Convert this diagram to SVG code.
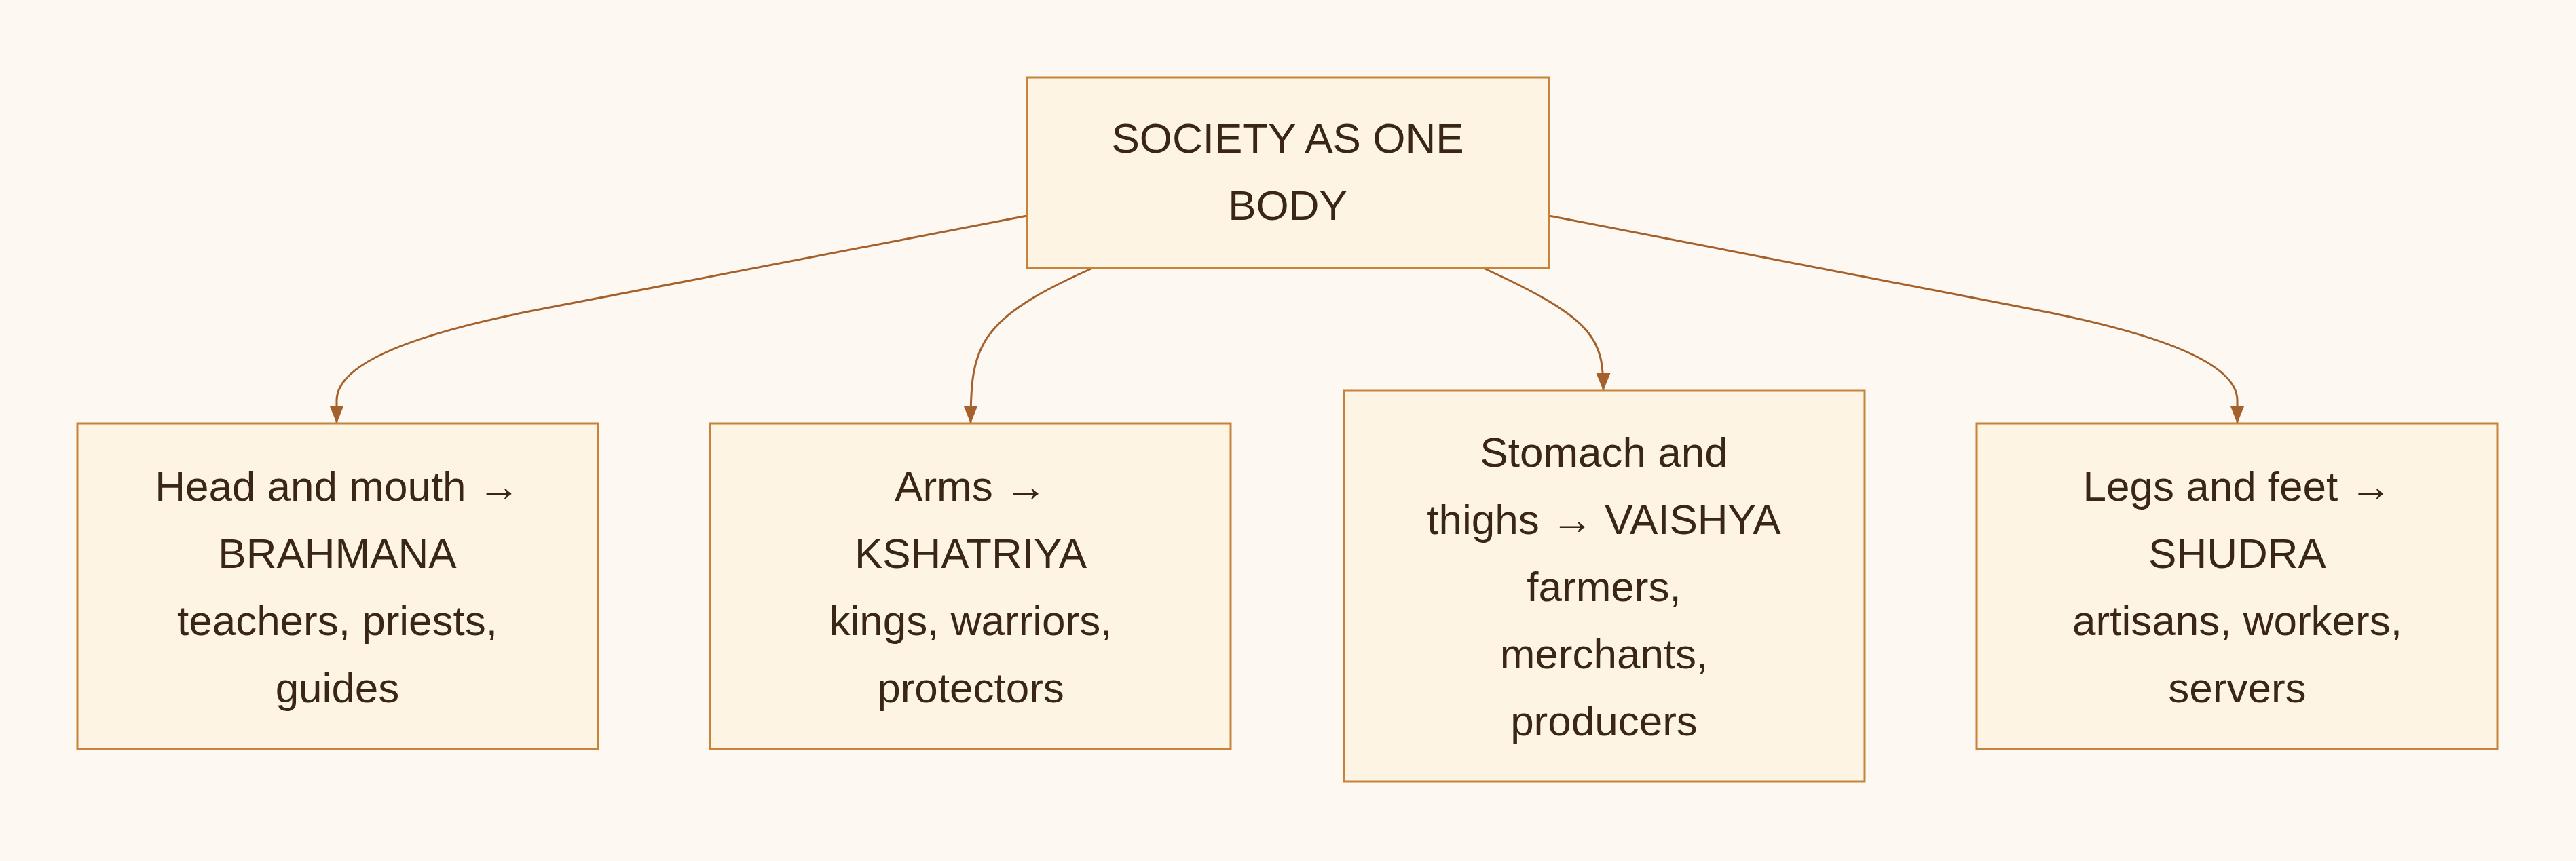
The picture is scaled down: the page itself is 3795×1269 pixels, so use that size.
<svg xmlns="http://www.w3.org/2000/svg" width="3795" height="1269" viewBox="0 0 3795 1269">
<style>
.n rect{fill:#fdf4e4;stroke:#c8833a;stroke-width:3}
.n text{font-family:"Liberation Sans",Arial,sans-serif;font-size:62px;fill:#3a2615;text-anchor:middle}
.e path{fill:none;stroke:#a4612c;stroke-width:3}
</style>
<defs><marker id="a" viewBox="0 0 10 10" refX="9" refY="5" markerWidth="9" markerHeight="9" markerUnits="userSpaceOnUse" orient="auto"><path d="M0,0L10,5L0,10z" fill="#a4612c"/></marker>
<marker id="ah" viewBox="0 0 10 10" refX="10" refY="5" markerWidth="26" markerHeight="26" markerUnits="userSpaceOnUse" orient="auto"><path d="M0,1L10,5L0,9z" fill="#a4612c"/></marker></defs>
<rect width="3795" height="1269" fill="#fdf8f1"/>
<g class="e">
<path d="M1513,318 L800,455 Q496,513 496,590 L496,624" marker-end="url(#ah)"/>
<path d="M1610,395 C1440,470 1430,510 1430,624" marker-end="url(#ah)"/>
<path d="M2185,395 C2350,470 2362,500 2362,576" marker-end="url(#ah)"/>
<path d="M2282,318 L2990,455 Q3296,513 3296,590 L3296,624" marker-end="url(#ah)"/>
</g>
<g class="n" id="root"><rect x="1513" y="114" width="769" height="281"/><text x="1897" y="225">SOCIETY AS ONE</text><text x="1897" y="324">BODY</text></g>
<g class="n" id="brahmana"><rect x="114" y="624" width="767" height="480"/><text x="497" y="738">Head and mouth →</text><text x="497" y="837">BRAHMANA</text><text x="497" y="936">teachers, priests,</text><text x="497" y="1035">guides</text></g>
<g class="n" id="kshatriya"><rect x="1046" y="624" width="767" height="480"/><text x="1430" y="738">Arms →</text><text x="1430" y="837">KSHATRIYA</text><text x="1430" y="936">kings, warriors,</text><text x="1430" y="1035">protectors</text></g>
<g class="n" id="vaishya"><rect x="1980" y="576" width="767" height="576"/><text x="2363" y="688">Stomach and</text><text x="2363" y="787">thighs → VAISHYA</text><text x="2363" y="886">farmers,</text><text x="2363" y="985">merchants,</text><text x="2363" y="1084">producers</text></g>
<g class="n" id="shudra"><rect x="2912" y="624" width="767" height="480"/><text x="3296" y="738">Legs and feet →</text><text x="3296" y="837">SHUDRA</text><text x="3296" y="936">artisans, workers,</text><text x="3296" y="1035">servers</text></g>
</svg>
